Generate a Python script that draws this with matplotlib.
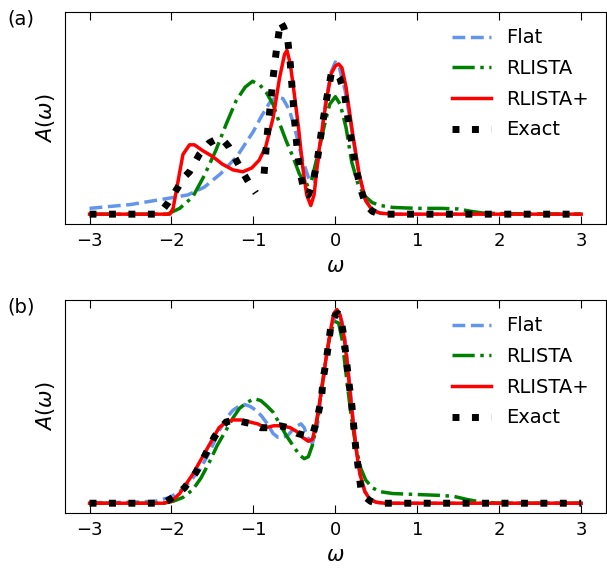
import numpy as np
import matplotlib.pyplot as plt

nan = np.nan

# panel (a)
a_flat_x = [-3, -2.5, -2.0, -1.8, -1.6, -1.4, -1.2, -1.0, -0.9, -0.8, -0.72, -0.64, -0.56, -0.48, -0.40,
            -0.32, -0.26, -0.20, -0.12, -0.05, 0.0, 0.05, 0.12, 0.2, 0.28, 0.36, 0.45, 0.55, 0.7, 1.0, 2.0, 3.0]
a_flat_y = [0.03, 0.05, 0.085, 0.10, 0.14, 0.21, 0.30, 0.43, 0.51, 0.58, 0.61, 0.60, 0.54, 0.42, 0.28,
            0.18, 0.17, 0.30, 0.58, 0.74, 0.79, 0.76, 0.64, 0.44, 0.22, 0.08, 0.02, 0.005, 0.0, 0, 0, 0]

a_rl_x = [-3, -2.5, -2.05, -1.9, -1.74, -1.6, -1.46, -1.33, -1.21, -1.1, -1.01, -0.92, -0.84, -0.76, -0.68,
          -0.60, -0.52, -0.44, -0.36, -0.30, -0.22, -0.14, -0.07, 0.0, 0.06, 0.13, 0.2, 0.28, 0.37, 0.45,
          0.55, 0.7, 1.0, 1.3, 1.5, 1.65, 1.8, 2.0, 3.0]
a_rl_y = [0, 0, 0, 0.03, 0.09, 0.2, 0.33, 0.47, 0.59, 0.66, 0.69, 0.67, 0.63, 0.57, 0.47,
          0.38, 0.30, 0.21, 0.15, 0.16, 0.30, 0.45, 0.57, 0.61, 0.57, 0.45, 0.27, 0.15, 0.09, 0.06,
          0.045, 0.035, 0.03, 0.03, 0.027, 0.015, 0.006, 0.003, 0]

a_rlp_x = [-3, -2.5, -2.1, -2.02, -1.98, -1.92, -1.86, -1.78, -1.72, -1.62, -1.5, -1.38, -1.25, -1.13,
           -1.02, -0.93, -0.85, -0.76, -0.68, -0.62, -0.59, -0.55, -0.50, -0.45, -0.40, -0.35, -0.30,
           -0.26, -0.20, -0.11, -0.05, 0.0, 0.04, 0.08, 0.13, 0.21, 0.29, 0.37, 0.45, 0.55, 0.7, 1.0, 2.0, 3.0]
a_rlp_y = [0, 0, 0, 0.0, 0.03, 0.17, 0.31, 0.36, 0.36, 0.33, 0.30, 0.26, 0.23, 0.22,
           0.24, 0.28, 0.35, 0.50, 0.71, 0.83, 0.85, 0.78, 0.62, 0.45, 0.25, 0.10, 0.045,
           0.10, 0.33, 0.59, 0.73, 0.77, 0.78, 0.76, 0.66, 0.42, 0.21, 0.07, 0.02, 0.005, 0, 0, 0, 0]

a_ex_x = [-3, -2.5, -2.15, -2.04, -1.92, -1.85, -1.78, -1.66, -1.54, -1.45, -1.38, -1.30, -1.21, -1.12,
          -1.05, -0.97, -0.92, -0.87, -0.83, -0.79, -0.76, -0.72, -0.67, -0.63, -0.58, -0.55, -0.52,
          -0.49, -0.46, -0.42, -0.38, -0.33, -0.27, -0.22, -0.16, -0.11, -0.05, 0.0, 0.05, 0.11, 0.17,
          0.25, 0.31, 0.37, 0.45, 0.54, 0.7, 1.0, 2.0, 3.0]
a_ex_y = [0, 0, 0, 0.06, 0.14, 0.19, 0.22, 0.31, 0.37, 0.39, 0.39, 0.35, 0.28, 0.21,
          0.16, 0.11, nan, 0.21, 0.42, 0.58, 0.71, 0.85, 1.0, 0.97, 0.90, 0.78, 0.61,
          0.45, 0.31, 0.20, 0.11, 0.10, 0.17, 0.28, 0.46, 0.59, 0.73, 0.74, 0.71, 0.63, 0.45,
          0.24, 0.13, 0.05, 0.015, 0.0, 0, 0, 0, 0]

# panel (b)
b_flat_x = [-3, -2.5, -2.2, -2.02, -1.9, -1.78, -1.66, -1.54, -1.41, -1.33, -1.25, -1.18, -1.11, -1.04,
            -0.97, -0.90, -0.83, -0.76, -0.70, -0.64, -0.58, -0.52, -0.46, -0.42, -0.38, -0.34, -0.28,
            -0.22, -0.16, -0.10, -0.05, 0.0, 0.04, 0.08, 0.12, 0.16, 0.20, 0.25, 0.30, 0.36, 0.43, 0.5,
            0.6, 1.0, 2.0, 3.0]
b_flat_y = [0.003, 0.005, 0.01, 0.03, 0.06, 0.11, 0.17, 0.26, 0.38, 0.44, 0.48, 0.50, 0.51, 0.50,
            0.48, 0.45, 0.41, 0.36, 0.34, 0.34, 0.35, 0.38, 0.40, 0.41, 0.39, 0.34, 0.31,
            0.40, 0.60, 0.78, 0.91, 0.97, 0.98, 0.94, 0.84, 0.68, 0.50, 0.30, 0.15, 0.06, 0.02, 0.005,
            0, 0, 0, 0]

b_rl_x = [-3, -2.5, -2.1, -1.98, -1.86, -1.74, -1.64, -1.54, -1.44, -1.33, -1.25, -1.17, -1.08, -0.99,
          -0.91, -0.83, -0.76, -0.68, -0.60, -0.52, -0.44, -0.38, -0.33, -0.28, -0.24, -0.18, -0.11,
          -0.06, -0.01, 0.04, 0.08, 0.13, 0.19, 0.25, 0.31, 0.37, 0.45, 0.54, 0.7, 1.0, 1.3, 1.45,
          1.6, 1.75, 1.9, 2.0, 3.0]
b_rl_y = [0, 0, 0, 0.01, 0.03, 0.07, 0.13, 0.21, 0.30, 0.38, 0.44, 0.49, 0.52, 0.54,
          0.53, 0.50, 0.47, 0.41, 0.35, 0.30, 0.25, 0.23, 0.24, 0.30, 0.38, 0.55, 0.76,
          0.88, 0.94, 0.93, 0.85, 0.67, 0.46, 0.29, 0.18, 0.12, 0.08, 0.06, 0.05, 0.045, 0.04, 0.035,
          0.02, 0.008, 0.003, 0, 0]

b_rlp_x = [-3, -2.5, -2.1, -2.0, -1.9, -1.82, -1.74, -1.66, -1.58, -1.50, -1.42, -1.33, -1.25, -1.15,
           -1.05, -0.95, -0.85, -0.75, -0.65, -0.55, -0.47, -0.40, -0.33, -0.28, -0.24, -0.20, -0.15,
           -0.11, -0.06, -0.02, 0.02, 0.06, 0.10, 0.14, 0.18, 0.22, 0.26, 0.30, 0.36, 0.42, 0.5, 0.6,
           1.0, 2.0, 3.0]
b_rlp_y = [0, 0, 0, 0.01, 0.05, 0.10, 0.15, 0.21, 0.27, 0.33, 0.39, 0.42, 0.43, 0.43,
           0.42, 0.41, 0.39, 0.40, 0.40, 0.39, 0.37, 0.34, 0.32, 0.33, 0.40, 0.50, 0.64,
           0.76, 0.89, 0.98, 1.0, 0.97, 0.88, 0.74, 0.57, 0.40, 0.26, 0.15, 0.06, 0.02, 0.005, 0,
           0, 0, 0]

b_ex_x = [-3, -2.5, -2.1, -2.02, -1.92, -1.84, -1.77, -1.70, -1.60, -1.48, -1.40, -1.33, -1.22, -1.13,
          -1.02, -0.91, -0.80, -0.68, -0.57, -0.46, -0.37, -0.28, -0.22, -0.17, -0.15, -0.11, -0.05,
          0.0, 0.03, 0.06, 0.10, 0.13, 0.16, 0.20, 0.23, 0.25, 0.31, 0.37, 0.43, 0.5, 0.6, 1.0, 2.0, 3.0]
b_ex_y = [0, 0, 0, 0.02, 0.05, 0.08, 0.12, 0.16, 0.24, 0.34, 0.39, 0.42, 0.43, 0.42,
          0.41, 0.39, 0.39, 0.40, 0.39, 0.36, 0.35, 0.35, 0.44, 0.54, 0.64, 0.74, 0.93,
          0.97, 0.98, 0.97, 0.87, 0.76, 0.64, 0.51, 0.37, 0.28, 0.08, 0.03, 0.01, 0, 0, 0, 0, 0]

xticks = [-3, -2, -1, 0, 1, 2, 3]

panels = [
    ("(a)", (a_flat_x, a_flat_y), (a_rl_x, a_rl_y), (a_rlp_x, a_rlp_y), (a_ex_x, a_ex_y)),
    ("(b)", (b_flat_x, b_flat_y), (b_rl_x, b_rl_y), (b_rlp_x, b_rlp_y), (b_ex_x, b_ex_y)),
]

fig = plt.figure(figsize=(6.07, 5.68), dpi=100)
boxes = [[0.107, 0.606, 0.891, 0.373], [0.107, 0.097, 0.891, 0.375]]

for box, (tag, flat, rl, rlp, ex) in zip(boxes, panels):
    ax = fig.add_axes(box)
    ax.plot(flat[0], flat[1], '--', color='cornflowerblue', lw=2.5, label='Flat')
    ax.plot(rl[0], rl[1], '-.', color='green', lw=2.5, label='RLISTA')
    ax.plot(rlp[0], rlp[1], '-', color='red', lw=2.5, label='RLISTA+')
    ax.plot(ex[0], ex[1], color='black', lw=5, dashes=(1, 1.8), label='Exact')
    ax.set_xticks(xticks)
    ax.set_yticks([])
    ax.tick_params(axis='x', direction='in', top=True, length=6, labelsize=13, pad=6)
    ax.set_xlabel(r'$\omega$', fontsize=15, labelpad=4)
    ax.set_ylabel(r'$A(\omega)$', fontsize=15, labelpad=6)
    ax.legend(loc='upper right', frameon=False, fontsize=14, handlelength=2.0,
              labelspacing=0.6, borderaxespad=0.45)
    fig.text(0.012, box[1] + box[3] - 0.022, tag, fontsize=14)

fig.savefig('out.png')
